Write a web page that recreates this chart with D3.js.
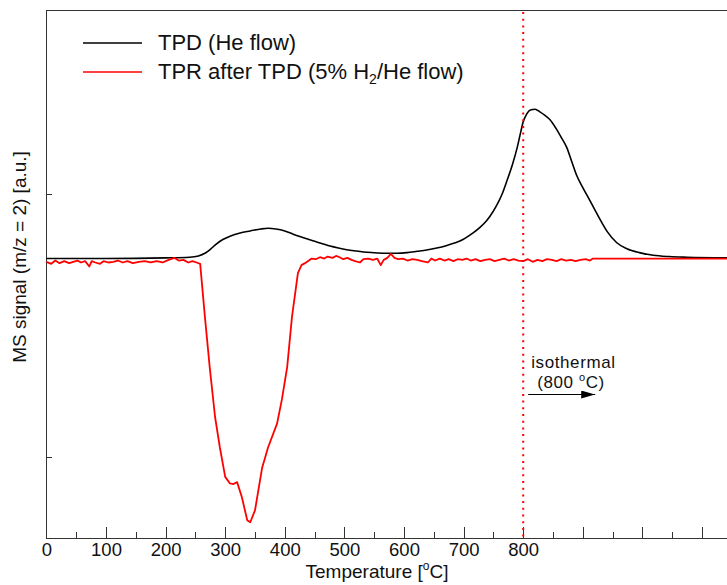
<!DOCTYPE html>
<meta charset="utf-8">
<head>
  <style>
    body { margin: 0; background: #fff; }
    svg { display: block; }
    text { font-family: "Liberation Sans", Arial, sans-serif; fill: #111; }
    .axis path, .axis line { stroke: #333; stroke-width: 1; shape-rendering: crispEdges; }
    .line { fill: none; }
  </style>
</head>
<body>
<script src="https://d3js.org/d3.v7.min.js"></script>
<script>
  // temperature [°C] and MS signal (a.u., 0 = baseline)
  const tpdT = [0, 100, 200, 240, 255, 266, 275, 285, 296, 308, 325, 342, 360, 372, 385, 400, 414, 430, 447, 462,
    476, 490, 504, 520, 538, 555, 571, 588, 605, 622, 638, 655, 672, 686, 699, 708, 716, 727, 737, 744,
    755, 765, 773, 782, 790, 796, 800, 806, 812, 820, 828, 836, 845, 855, 864, 873, 882, 890, 900, 912,
    925, 941, 957, 974, 995, 1018, 1045, 1075, 1142];
  const tpdV = [0.02, 0.02, 0.03, 0.04, 0.06, 0.10, 0.16, 0.24, 0.31, 0.36, 0.41, 0.44, 0.47, 0.48, 0.47, 0.44, 0.39, 0.34, 0.29, 0.25,
    0.21, 0.18, 0.155, 0.135, 0.115, 0.105, 0.10, 0.10, 0.11, 0.13, 0.15, 0.18, 0.22, 0.26, 0.31, 0.36, 0.41, 0.49, 0.58, 0.66,
    0.82, 1.01, 1.21, 1.45, 1.71, 1.95, 2.10, 2.22, 2.28, 2.29, 2.25, 2.20, 2.13, 2.00, 1.86, 1.71, 1.48, 1.28, 1.10, 0.90,
    0.68, 0.43, 0.26, 0.17, 0.11, 0.07, 0.05, 0.04, 0.03];

  const tprT = [0, 8, 15, 22, 30, 38, 45, 52, 58, 65, 72, 76, 82, 90, 96, 104, 112, 120, 128, 136,
    145, 155, 165, 175, 185, 195, 205, 215, 222, 230, 238, 245, 252, 258,
    266, 274, 283, 291, 300, 308, 314, 320, 328, 337, 342, 350, 362, 372, 387, 395, 404, 412, 422, 428, 434,
    445, 452, 459, 466, 472, 480, 486, 492, 498, 505, 512, 518, 526, 532, 540, 548, 555, 561, 566, 572,
    578, 584, 590, 598, 606, 614, 622, 630, 640, 646, 652, 660, 668, 675, 683, 690, 698, 705, 712, 720,
    728, 736, 744, 752, 760, 768, 776, 784, 792, 800, 808, 816, 824, 832, 840, 848, 856, 864, 872, 880,
    888, 896, 905, 912, 917, 1142];
  const tprV = [-0.03, -0.06, -0.01, -0.05, -0.02, -0.05, -0.03, -0.01, -0.04, -0.02, -0.10, -0.02, -0.04, -0.06, -0.02, -0.04, -0.03, -0.01, -0.04, -0.02,
    -0.05, -0.03, -0.02, -0.04, -0.02, -0.04, 0.0, 0.03, -0.01, 0.0, -0.04, -0.02, -0.04, -0.06,
    -0.87, -1.63, -2.39, -2.85, -3.30, -3.40, -3.41, -3.38, -3.61, -3.96, -3.99, -3.81, -3.16, -2.85, -2.49, -2.13, -1.63, -0.87, -0.20, -0.08, -0.05,
    0.02, 0.01, 0.04, 0.02, 0.05, 0.03, 0.06, 0.04, 0.01, 0.03, 0.0, -0.02, -0.04, 0.01, 0.02, 0.0, 0.02, -0.08, 0.0, 0.03,
    0.09, 0.03, 0.01, 0.02, -0.01, 0.01, 0.0, -0.02, -0.04, 0.02, -0.01, 0.02, -0.01, 0.01, -0.02, 0.01, 0.0, 0.02, -0.01, 0.01,
    -0.02, 0.0, 0.01, -0.02, 0.0, 0.02, -0.01, 0.01, -0.01, -0.02, 0.01, -0.03, 0.0, -0.02, 0.01, 0.0, -0.02, 0.01, -0.01, 0.0,
    -0.02, 0.0, 0.01, -0.01, 0.02, 0.02];

  const xTickLabels = [0, 100, 200, 300, 400, 500, 600, 700, 800];
  const yTicks = [1, -3];
  const isoTemp = 800;
  const legendNames = ["TPD (He flow)", "TPR after TPD (5% H", "/He flow)"];

  const width = 727, height = 585;
  const plotLeft = 46.4, plotTop = 10, plotBottom = 538;

  const x = d3.scaleLinear().domain([0, 1100]).range([plotLeft, plotLeft + 59.6 * 11]);
  const y = d3.scaleLinear().domain([-4.23, 3.80]).range([plotBottom, plotTop]);

  const svg = d3.select("body").append("svg")
    .attr("width", width)
    .attr("height", height);

  // frame (top line, right side is off the picture)
  svg.append("line")
    .attr("x1", plotLeft).attr("x2", width)
    .attr("y1", plotTop + 0.5).attr("y2", plotTop + 0.5)
    .attr("stroke", "#333").attr("shape-rendering", "crispEdges");

  const minor = d3.range(50, 1200, 100);
  svg.append("g").attr("class", "axis")
    .attr("transform", `translate(0,${plotBottom})`)
    .call(d3.axisBottom(x).tickValues(minor).tickSize(-6).tickSizeOuter(0).tickFormat(""))
    .call(g => g.select(".domain").attr("d", `M${plotLeft},0.5H${width}`));

  svg.append("g").attr("class", "axis")
    .attr("transform", `translate(0,${plotBottom})`)
    .call(d3.axisBottom(x).tickValues(d3.range(0, 1200, 100)).tickSize(-11).tickSizeOuter(0)
      .tickFormat(d => xTickLabels.includes(d) ? d : ""))
    .call(g => g.select(".domain").remove())
    .call(g => g.selectAll("text").attr("y", 5).attr("dy", "0.71em")
      .style("font-size", "18.5px").attr("fill", "#111"));

  svg.append("g").attr("class", "axis")
    .attr("transform", `translate(${plotLeft},0)`)
    .call(d3.axisLeft(y).tickValues(yTicks).tickSize(-6).tickSizeOuter(0).tickFormat(""))
    .call(g => g.select(".domain").attr("d", `M0.5,${plotTop}V${plotBottom}`));

  // axis titles
  const xt = svg.append("text")
    .attr("x", 377).attr("y", 577.5)
    .attr("text-anchor", "middle")
    .style("font-size", "19px");
  xt.append("tspan").text("Temperature [");
  xt.append("tspan").attr("dy", -8).style("font-size", "12px").text("o");
  xt.append("tspan").attr("dy", 8).text("C]");

  svg.append("text")
    .attr("transform", "rotate(-90)")
    .attr("x", -257).attr("y", 26)
    .attr("text-anchor", "middle")
    .style("font-size", "19px")
    .text("MS signal (m/z = 2) [a.u.]");

  // curves
  const lineSmooth = d3.line().x(d => x(d[0])).y(d => y(d[1])).curve(d3.curveMonotoneX);
  const lineRaw = d3.line().x(d => x(d[0])).y(d => y(d[1]));

  svg.append("path").attr("class", "line")
    .attr("d", lineSmooth(d3.zip(tpdT, tpdV)))
    .attr("stroke", "#000").attr("stroke-width", 1.6);

  svg.append("path").attr("class", "line")
    .attr("d", lineRaw(d3.zip(tprT, tprV)))
    .attr("stroke", "#ff0000").attr("stroke-width", 1.8)
    .attr("stroke-linejoin", "round");

  // isothermal marker
  svg.append("line")
    .attr("x1", x(isoTemp)).attr("x2", x(isoTemp))
    .attr("y1", plotTop + 2).attr("y2", plotBottom)
    .attr("stroke", "#ff0000").attr("stroke-width", 2)
    .attr("stroke-dasharray", "2,4.7");

  svg.append("defs").append("marker")
    .attr("id", "arrow")
    .attr("viewBox", "0 0 14 8")
    .attr("refX", 14).attr("refY", 4)
    .attr("markerWidth", 14).attr("markerHeight", 8)
    .attr("markerUnits", "userSpaceOnUse")
    .attr("orient", "auto")
    .append("path").attr("d", "M0,0L14,4L0,8Z").attr("fill", "#000");

  svg.append("line")
    .attr("x1", x(isoTemp) + 5).attr("x2", x(isoTemp) + 72)
    .attr("y1", 394.5).attr("y2", 394.5)
    .attr("stroke", "#000").attr("stroke-width", 1.2)
    .attr("marker-end", "url(#arrow)");

  svg.append("text")
    .attr("x", x(isoTemp) + 8).attr("y", 368)
    .style("font-size", "17px").style("letter-spacing", "0.6px")
    .text("isothermal");
  const iso2 = svg.append("text")
    .attr("x", x(isoTemp) + 14).attr("y", 388)
    .style("font-size", "17px").style("letter-spacing", "0.6px");
  iso2.append("tspan").text("(800 ");
  iso2.append("tspan").attr("dy", -7).style("font-size", "11px").text("o");
  iso2.append("tspan").attr("dy", 7).text("C)");

  // legend
  const legend = svg.append("g");
  legend.append("line").attr("x1", 83).attr("x2", 142).attr("y1", 43).attr("y2", 43)
    .attr("stroke", "#000").attr("stroke-width", 1.6);
  legend.append("text").attr("x", 158).attr("y", 50)
    .style("font-size", "22px").text(legendNames[0]);
  legend.append("line").attr("x1", 83).attr("x2", 142).attr("y1", 72).attr("y2", 72)
    .attr("stroke", "#ff0000").attr("stroke-width", 1.6);
  const lt = legend.append("text").attr("x", 158).attr("y", 79).style("font-size", "22px");
  lt.append("tspan").text(legendNames[1]);
  lt.append("tspan").attr("dy", 5).style("font-size", "14px").text("2");
  lt.append("tspan").attr("dy", -5).text(legendNames[2]);
</script>
</body>
